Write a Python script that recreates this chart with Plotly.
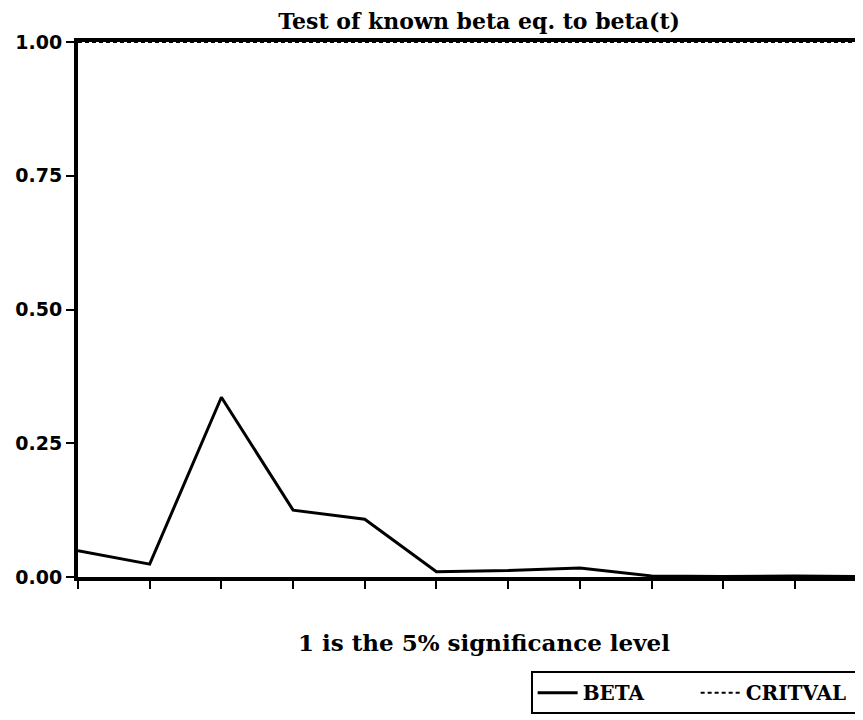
import plotly.graph_objects as go

periods = list(range(12))
beta = [0.049, 0.024, 0.336, 0.125, 0.108, 0.010, 0.012, 0.017, 0.002, 0.001, 0.002, 0.001]
critval = [1.0] * 12
y_ticks = [0.0, 0.25, 0.5, 0.75, 1.0]
y_tick_text = ["0.00", "0.25", "0.50", "0.75", "1.00"]

serif = "DejaVu Serif"
sans = "DejaVu Sans"

fig = go.Figure()
fig.add_trace(go.Scatter(x=periods, y=beta, mode="lines", name="BETA",
                         line=dict(color="black", width=3)))
fig.add_trace(go.Scatter(x=periods, y=critval, mode="lines", name="CRITVAL",
                         line=dict(color="black", width=2, dash="4px,3px")))

fig.update_layout(
    width=855, height=712,
    margin=dict(l=70, r=0, t=34, b=143),
    paper_bgcolor="white", plot_bgcolor="white",
    title=dict(text="<b>Test of known beta eq. to beta(t)</b>", x=0.551, xanchor="center",
               y=0.992, yanchor="top", font=dict(family=serif, size=22, color="black")),
    showlegend=True,
    legend=dict(orientation="h", x=0.997, xanchor="right", y=-0.176, yanchor="top",
                bordercolor="black", borderwidth=2, bgcolor="white",
                font=dict(family=serif, size=20, color="black", weight="bold"),
                itemwidth=40, entrywidth=108, tracegroupgap=0),
    annotations=[dict(text="<b>1 is the 5% significance level</b>", xref="paper", yref="paper",
                      x=0.517, y=-0.123, xanchor="center", yanchor="middle", showarrow=False,
                      font=dict(family=serif, size=23, color="black"))],
)
fig.update_xaxes(range=[0, 10.95], tickvals=periods, showticklabels=False,
                 ticks="outside", ticklen=8, tickwidth=2, tickcolor="black",
                 showline=True, linewidth=4, linecolor="black", mirror=True,
                 showgrid=False, zeroline=False)
fig.update_yaxes(range=[0, 1], tickvals=y_ticks, ticktext=y_tick_text,
                 ticks="outside", ticklen=8, tickwidth=2, tickcolor="black",
                 tickfont=dict(family=sans, size=19, color="black", weight="bold"),
                 showline=True, linewidth=4, linecolor="black", mirror=False,
                 showgrid=False, zeroline=False)

fig.write_html("out.html")
